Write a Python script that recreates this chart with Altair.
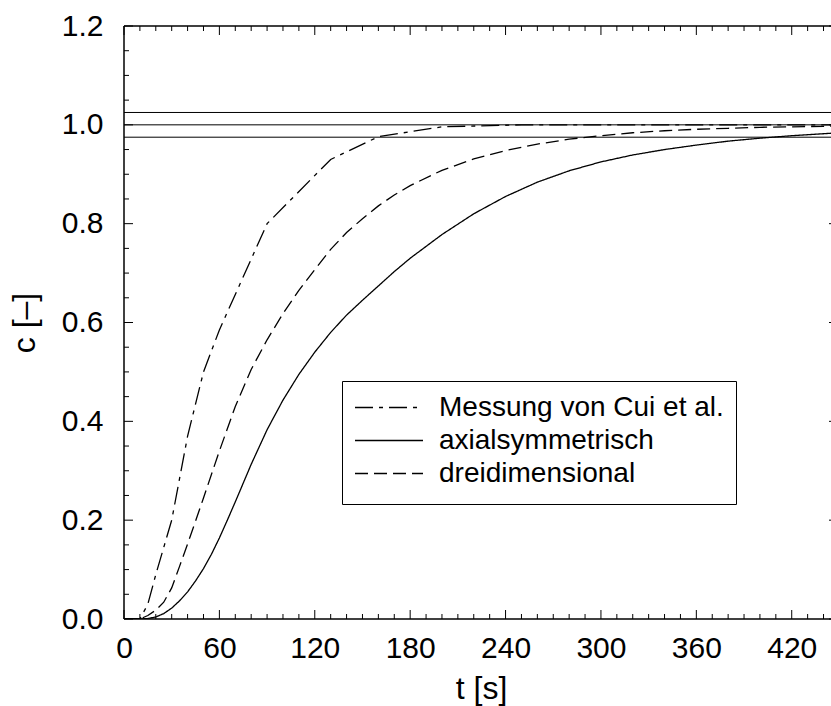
import altair as alt
import pandas as pd

FONT = "Liberation Sans"

SERIES = ["Messung von Cui et al.", "axialsymmetrisch", "dreidimensional"]

# Messung von Cui et al. (dash-dot polyline)
T_CUI = [0, 10, 15, 20, 30, 40, 50, 60, 90, 130, 160, 200, 250, 450]
C_CUI = [0.0, 0.0, 0.03, 0.09, 0.2, 0.37, 0.5, 0.585, 0.8, 0.93, 0.976, 0.996, 1.0, 1.0]

# axialsymmetrisch (solid)
T_AX = [0, 10, 15, 20, 25, 30, 35, 40, 45, 50, 55, 60, 65, 70, 80, 90, 100, 110, 120,
        130, 140, 150, 160, 170, 180, 200, 220, 240, 260, 280, 300, 320, 340, 360, 380,
        400, 420, 440, 450]
C_AX = [0.0, 0.0, 0.001, 0.004, 0.011, 0.022, 0.037, 0.055, 0.077, 0.102, 0.131, 0.164,
        0.2, 0.237, 0.313, 0.383, 0.443, 0.495, 0.54, 0.58, 0.615, 0.645, 0.674, 0.703,
        0.73, 0.778, 0.82, 0.855, 0.884, 0.907, 0.925, 0.939, 0.95, 0.959, 0.967,
        0.973, 0.978, 0.982, 0.984]

# dreidimensional (dashed)
T_3D = [0, 10, 15, 20, 25, 30, 35, 40, 45, 50, 60, 70, 80, 90, 100, 110, 120, 130,
        140, 150, 160, 170, 180, 200, 220, 240, 260, 280, 300, 320, 340, 360, 380,
        400, 420, 440, 450]
C_3D = [0.0, 0.0, 0.007, 0.018, 0.034, 0.063, 0.107, 0.152, 0.198, 0.245, 0.34, 0.43,
        0.505, 0.565, 0.618, 0.665, 0.707, 0.748, 0.782, 0.81, 0.836, 0.858, 0.877,
        0.908, 0.931, 0.948, 0.961, 0.971, 0.978, 0.984, 0.988, 0.991, 0.993, 0.995,
        0.996, 0.997, 0.998]

REF_LINES = [0.975, 1.0, 1.025]

X_LABELS = [0, 60, 120, 180, 240, 300, 360, 420]
X_MINOR = [10, 20, 30, 40, 50, 70, 80, 90, 100, 110, 130, 140, 150, 160, 170, 190, 200,
           210, 220, 230, 250, 260, 270, 280, 290, 310, 320, 330, 340, 350, 370, 380,
           390, 400, 410, 430, 440]
Y_MAJOR = [0.0, 0.2, 0.4, 0.6, 0.8, 1.0, 1.2]
Y_MINOR = [0.05, 0.1, 0.15, 0.25, 0.3, 0.35, 0.45, 0.5, 0.55, 0.65, 0.7, 0.75, 0.85,
           0.9, 0.95, 1.05, 1.1, 1.15]

W, H = 707, 593
XMAX = 444.7

df = pd.concat([
    pd.DataFrame({"t": T_CUI, "c": C_CUI, "series": SERIES[0]}),
    pd.DataFrame({"t": T_AX, "c": C_AX, "series": SERIES[1]}),
    pd.DataFrame({"t": T_3D, "c": C_3D, "series": SERIES[2]}),
], ignore_index=True)

xs = alt.Scale(domain=[0, XMAX], nice=False, zero=False)
ys = alt.Scale(domain=[0, 1.2], nice=False)

x_axis = alt.Axis(values=X_LABELS, ticks=False, domain=False, grid=False,
                  labelFontSize=30, labelFont=FONT, labelColor="black",
                  labelPadding=14, labelFlush=False, labelOverlap=False,
                  title="t [s]", titleFontSize=32, titleFont=FONT,
                  titleFontWeight="normal", titleColor="black",
                  titleX=357, titleY=79, titleBaseline="alphabetic")
y_axis = alt.Axis(values=Y_MAJOR, format=".1f", ticks=False, domain=False, grid=False,
                  labelFontSize=30, labelFont=FONT, labelColor="black",
                  labelPadding=21, labelOverlap=False, labelFlush=False,
                  title="c [–]", titleFontSize=32, titleFont=FONT,
                  titleFontWeight="normal", titleColor="black",
                  titleAngle=270, titleX=-89.5, titleY=296.5,
                  titleBaseline="alphabetic", titleAlign="center")

XE = lambda: alt.X("t:Q", scale=xs, axis=x_axis)
YE = lambda: alt.Y("c:Q", scale=ys, axis=y_axis)

# legend symbol: horizontal line drawn from a custom path (unit = sqrt(size)/2)
SYM_S = 27
SYM_PATH = "M-1,0H4.037M0,1.167"

lines = alt.Chart(df).mark_line(clip=True, strokeWidth=1.3, color="black").encode(
    x=XE(),
    y=YE(),
    strokeDash=alt.StrokeDash(
        "series:N",
        scale=alt.Scale(domain=SERIES, range=[[18, 6, 4, 6], [1, 0], [13, 6]]),
        legend=alt.Legend(title=None, orient="none", legendX=218, legendY=355,
                          strokeColor="black", fillColor="white", padding=12,
                          labelFontSize=28, labelFont=FONT, labelColor="black",
                          labelLimit=0, labelOffset=56, rowPadding=-0.5,
                          symbolType=SYM_PATH, symbolSize=SYM_S * SYM_S,
                          symbolStrokeWidth=1.3, symbolStrokeColor="black"),
    ),
)

refs = alt.Chart(pd.DataFrame({"c": REF_LINES})).mark_rule(
    color="black", strokeWidth=1).encode(y=YE())

frame_h = alt.Chart(pd.DataFrame({"c": [0.0, 1.2]})).mark_rule(
    color="black", strokeWidth=1.5).encode(y=YE())
frame_v = alt.Chart(pd.DataFrame({"t": [0]})).mark_rule(
    color="black", strokeWidth=1.5).encode(x=XE())

xmaj = pd.DataFrame({"t": X_LABELS})
xmin = pd.DataFrame({"t": X_MINOR})
ymaj = pd.DataFrame({"c": Y_MAJOR})
ymin = pd.DataFrame({"c": Y_MINOR})

def xtick(data, y0, y1):
    return alt.Chart(data).mark_rule(color="black", strokeWidth=1).encode(
        x=XE(), y=alt.value(y0), y2=alt.value(y1))

def ytick(data, x0, x1):
    return alt.Chart(data).mark_rule(color="black", strokeWidth=1).encode(
        y=YE(), x=alt.value(x0), x2=alt.value(x1))

ticks = [
    xtick(xmaj, H, H - 9), xtick(xmin, H, H - 5),
    xtick(xmaj, 0, 9), xtick(xmin, 0, 5),
    ytick(ymaj, 0, 9), ytick(ymin, 0, 5),
    ytick(ymaj, W - 2, W),
]

chart = alt.layer(lines, refs, *ticks, frame_h, frame_v).properties(
    width=W, height=H,
    autosize=alt.AutoSizeParams(type="none"),
    padding={"left": 124, "top": 26, "right": 0, "bottom": 87},
    background="white",
).configure_view(strokeWidth=0)

chart.save("out.html", embed_options={"renderer": "svg", "actions": False})
